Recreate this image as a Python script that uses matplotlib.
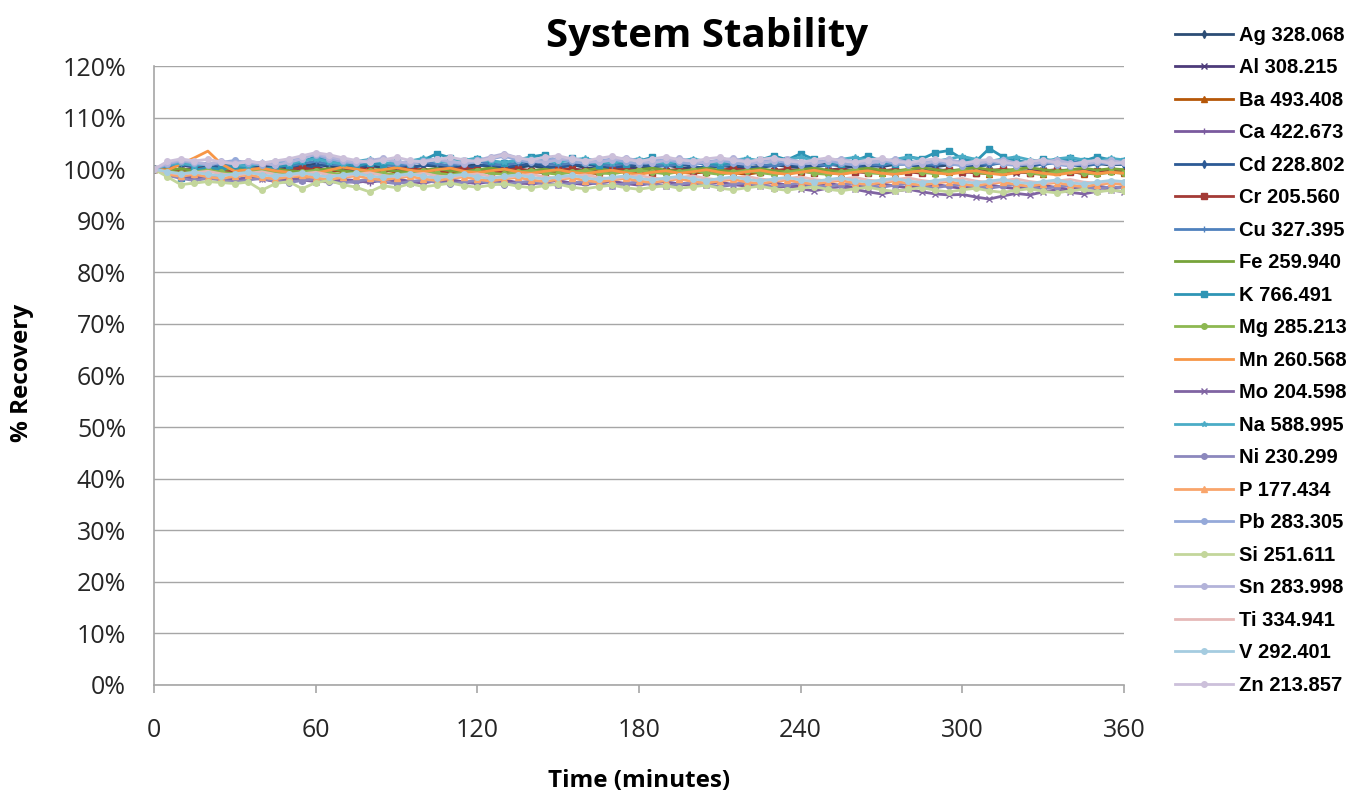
import numpy as np
import matplotlib
matplotlib.use('Agg')
import matplotlib.pyplot as plt
from matplotlib.ticker import PercentFormatter, MultipleLocator

# time in minutes, one reading every 5 minutes
time_min = list(range(0, 361, 5))

labels = ['Ag 328.068', 'Al 308.215', 'Ba 493.408', 'Ca 422.673', 'Cd 228.802',
          'Cr 205.560', 'Cu 327.395', 'Fe 259.940', 'K 766.491', 'Mg 285.213',
          'Mn 260.568', 'Mo 204.598', 'Na 588.995', 'Ni 230.299', 'P 177.434',
          'Pb 283.305', 'Si 251.611', 'Sn 283.998', 'Ti 334.941', 'V 292.401',
          'Zn 213.857']

ag = [100.0, 100.4, 100.8, 100.5, 100.2, 100.6, 100.3, 99.9, 100.1, 100.4,
      100.2, 100.7, 101.0, 100.5, 100.3, 100.1, 100.6, 100.4, 100.0, 100.3,
      100.8, 100.5, 100.2, 100.6, 100.9, 100.4, 100.1, 100.3, 100.7, 100.2,
      100.5, 100.9, 100.3, 100.0, 100.4, 100.6, 100.2, 100.5, 100.8, 100.3,
      100.1, 100.5, 100.7, 100.4, 100.2, 100.6, 100.9, 100.5, 100.3, 100.7,
      101.0, 100.6, 100.4, 100.8, 100.5, 100.9, 101.1, 100.7, 100.5, 100.8,
      101.0, 100.6, 100.9, 101.2, 100.8, 100.6, 101.0, 101.3, 100.9, 100.7,
      101.1, 100.8, 101.0]
al = [100.0, 99.6, 99.9, 100.2, 99.7, 99.5, 99.9, 100.1, 99.8, 99.6,
      99.9, 100.2, 100.4, 99.8, 99.7, 100.0, 99.6, 99.9, 100.3, 99.8,
      99.5, 99.9, 100.2, 99.7, 99.4, 99.8, 100.1, 99.9, 99.6, 99.3,
      99.7, 100.0, 99.8, 99.5, 99.9, 100.2, 99.8, 99.6, 99.4, 99.7,
      100.0, 99.7, 99.5, 99.8, 100.1, 99.6, 99.3, 99.7, 99.9, 99.5,
      99.8, 100.1, 99.7, 99.4, 99.6, 99.9, 99.5, 99.8, 100.0, 99.6,
      99.3, 99.7, 99.9, 99.5, 99.2, 99.6, 99.8, 99.4, 99.7, 99.9,
      99.5, 99.7, 99.4]
ba = [100.0, 100.3, 99.8, 99.5, 99.9, 100.2, 99.7, 99.4, 99.8, 100.1,
      99.6, 99.3, 99.7, 100.0, 99.5, 99.2, 99.6, 99.9, 99.4, 99.7,
      100.0, 99.5, 99.3, 99.7, 99.9, 99.4, 99.2, 99.6, 99.8, 99.3,
      99.5, 99.8, 99.4, 99.1, 99.5, 99.7, 99.3, 99.6, 99.9, 99.4,
      99.2, 99.5, 99.8, 99.3, 99.0, 99.4, 99.7, 99.2, 99.5, 99.8,
      99.4, 99.1, 99.5, 99.7, 99.3, 99.0, 99.4, 99.6, 99.2, 99.5,
      99.8, 99.3, 99.1, 99.5, 99.7, 99.2, 99.0, 99.4, 99.6, 99.1,
      99.3, 99.6, 99.2]
ca = [100.0, 99.0, 98.5, 98.2, 98.6, 98.0, 97.8, 98.3, 98.1, 97.6,
      97.9, 98.3, 97.7, 97.5, 98.0, 97.8, 97.4, 97.9, 98.2, 97.6,
      97.3, 97.8, 98.0, 97.5, 97.2, 97.6, 97.9, 97.4, 97.1, 97.5,
      97.8, 97.3, 97.0, 97.4, 97.7, 97.2, 96.9, 97.3, 97.6, 97.1,
      96.8, 97.2, 97.5, 97.0, 96.7, 97.1, 97.4, 96.9, 96.6, 97.0,
      97.3, 96.8, 96.5, 96.9, 97.2, 96.7, 96.4, 96.8, 97.1, 96.6,
      96.3, 96.7, 97.0, 96.5, 96.2, 96.6, 96.9, 96.4, 96.1, 96.5,
      96.8, 96.3, 96.6]
cd = [100.0, 100.5, 100.9, 100.6, 100.3, 100.7, 101.0, 100.6, 100.4, 100.8,
      100.5, 100.2, 100.6, 101.0, 100.7, 100.4, 100.8, 101.1, 100.6, 100.3,
      100.7, 101.0, 100.5, 100.2, 100.6, 100.9, 100.4, 100.7, 101.1, 100.6,
      100.3, 100.7, 101.0, 100.5, 100.2, 100.6, 100.9, 100.4, 100.7, 101.0,
      100.5, 100.2, 100.6, 100.9, 100.5, 100.3, 100.7, 101.0, 100.6, 100.4,
      100.8, 101.1, 100.7, 100.4, 100.8, 101.2, 100.8, 100.5, 100.9, 101.2,
      100.7, 100.5, 100.9, 101.3, 100.9, 100.6, 101.0, 101.3, 100.8, 100.6,
      101.0, 101.2, 100.9]
cr = [100.0, 100.2, 99.7, 99.9, 100.3, 99.8, 99.5, 99.9, 100.2, 99.7,
      99.9, 100.3, 99.8, 99.6, 100.0, 100.3, 99.8, 99.6, 99.9, 100.2,
      99.7, 99.5, 99.9, 100.2, 99.8, 99.5, 99.8, 100.1, 99.7, 99.4,
      99.8, 100.1, 99.6, 99.4, 99.8, 100.0, 99.6, 99.3, 99.7, 100.0,
      99.6, 99.4, 99.8, 100.1, 99.7, 99.4, 99.7, 100.0, 99.6, 99.3,
      99.7, 100.0, 99.5, 99.3, 99.7, 99.9, 99.5, 99.2, 99.6, 99.9,
      99.5, 99.3, 99.7, 100.0, 99.6, 99.3, 99.6, 99.9, 99.5, 99.2,
      99.6, 99.9, 99.5]
cu = [100.0, 100.6, 101.0, 100.7, 101.2, 100.8, 100.5, 100.9, 101.3, 100.9,
      100.6, 101.1, 101.5, 101.0, 100.7, 101.1, 101.4, 100.9, 100.6, 101.0,
      101.4, 101.0, 100.7, 101.1, 101.5, 101.0, 100.8, 101.2, 101.6, 101.1,
      100.8, 101.2, 101.5, 101.0, 100.7, 101.1, 101.4, 100.9, 100.6, 101.0,
      101.3, 100.9, 100.6, 101.0, 101.4, 100.9, 100.7, 101.1, 101.4, 101.0,
      100.7, 101.1, 101.5, 101.0, 100.8, 101.2, 101.6, 101.1, 100.9, 101.3,
      101.6, 101.2, 100.9, 101.3, 101.7, 101.2, 100.9, 101.3, 101.6, 101.1,
      100.9, 101.3, 101.1]
fe = [100.0, 99.8, 100.1, 99.7, 99.5, 99.9, 100.2, 99.8, 99.6, 100.0,
      99.7, 99.5, 99.8, 100.1, 99.7, 99.4, 99.8, 100.0, 99.6, 99.4,
      99.8, 100.1, 99.7, 99.5, 99.9, 100.2, 99.8, 99.5, 99.7, 100.0,
      99.6, 99.4, 99.8, 100.1, 99.7, 99.5, 99.9, 100.2, 99.8, 99.6,
      99.9, 100.2, 99.8, 99.5, 99.8, 100.1, 99.7, 99.5, 99.9, 100.2,
      99.8, 99.5, 99.9, 100.2, 99.8, 99.6, 100.0, 100.3, 99.9, 99.6,
      100.0, 100.3, 99.9, 99.7, 100.0, 100.3, 99.9, 99.6, 99.9, 100.2,
      99.8, 100.1, 99.9]
k = [100.0, 99.5, 98.2, 99.8, 100.3, 100.0, 100.6, 100.2, 99.9, 100.4,
     100.8, 101.5, 102.4, 101.6, 101.0, 100.6, 101.2, 100.8, 101.5, 101.0,
     101.8, 103.0, 102.2, 101.5, 102.0, 101.6, 101.2, 101.8, 102.4, 102.8,
     101.5, 102.2, 101.3, 100.9, 101.5, 101.0, 101.6, 102.3, 101.4, 101.0,
     101.6, 101.2, 100.8, 101.4, 101.0, 101.8, 102.6, 101.8, 103.0, 101.9,
     101.3, 101.0, 101.6, 102.6, 101.5, 101.0, 102.4, 102.0, 103.2, 103.6,
     102.0, 101.5, 104.0, 102.4, 101.6, 101.2, 102.0, 101.5, 102.2, 101.6,
     102.4, 101.8, 101.6]
mg = [100.0, 99.6, 99.2, 99.5, 99.8, 99.4, 99.1, 99.5, 99.7, 99.3,
      99.0, 99.4, 99.7, 99.3, 99.0, 99.3, 99.6, 99.2, 98.9, 99.3,
      99.6, 99.2, 98.9, 99.3, 99.6, 99.2, 99.0, 99.4, 99.7, 99.3,
      99.0, 99.4, 99.7, 99.3, 99.1, 99.5, 99.8, 99.4, 99.1, 99.5,
      99.8, 99.3, 99.0, 99.4, 99.7, 99.3, 99.0, 99.4, 99.7, 99.2,
      99.0, 99.4, 99.8, 99.3, 99.1, 99.5, 99.8, 99.4, 99.1, 99.5,
      99.8, 99.4, 99.1, 99.5, 99.8, 99.3, 99.0, 99.4, 99.7, 99.3,
      99.0, 99.4, 99.2]
mn = [100.0, 99.8, 101.0, 102.2, 103.5, 101.0, 99.6, 99.9, 100.2, 99.7,
      99.4, 97.6, 99.2, 99.8, 100.4, 100.0, 99.6, 99.9, 100.3, 99.8,
      99.5, 99.9, 100.2, 99.6, 99.3, 99.7, 100.0, 99.5, 99.2, 99.6,
      99.9, 99.4, 99.1, 99.5, 99.8, 99.3, 99.0, 99.4, 99.7, 99.2,
      99.5, 99.9, 99.4, 99.1, 99.5, 99.8, 99.3, 99.0, 99.4, 99.8,
      99.3, 99.0, 99.4, 99.7, 99.2, 99.0, 99.4, 99.7, 99.3, 99.0,
      99.4, 99.7, 99.2, 98.9, 99.3, 99.6, 99.2, 98.9, 99.3, 99.6,
      99.1, 99.4, 99.2]
mo = [100.0, 99.2, 98.8, 98.4, 98.7, 98.2, 98.0, 98.4, 98.1, 97.8,
      98.2, 97.9, 97.6, 98.0, 97.7, 97.4, 97.8, 98.1, 97.6, 97.3,
      97.7, 98.0, 97.5, 97.2, 97.6, 97.9, 97.4, 97.1, 97.5, 97.2,
      96.9, 97.3, 97.6, 97.1, 96.8, 97.2, 97.5, 97.0, 96.7, 97.1,
      97.4, 96.9, 96.6, 97.0, 97.3, 96.8, 96.4, 96.7, 96.2, 95.8,
      96.3, 96.6, 96.1, 95.6, 95.2, 95.7, 96.1, 95.6, 95.2, 95.0,
      95.1, 94.6, 94.2, 94.8, 95.3, 95.0, 95.6, 96.0, 95.5, 95.2,
      95.7, 96.0, 95.6]
na = [100.0, 100.8, 101.2, 100.7, 101.0, 101.4, 100.9, 100.6, 101.1, 101.5,
      101.0, 101.6, 102.0, 101.4, 101.0, 101.5, 101.9, 101.3, 101.0, 101.6,
      102.1, 101.6, 101.2, 101.7, 102.2, 101.6, 101.3, 101.8, 102.2, 101.7,
      101.3, 101.8, 102.1, 101.5, 101.2, 101.7, 102.0, 101.4, 101.1, 101.6,
      102.0, 101.5, 101.2, 101.7, 102.1, 101.6, 101.3, 101.8, 102.3, 101.7,
      101.4, 101.9, 102.3, 101.7, 101.4, 101.9, 102.4, 101.8, 101.5, 102.0,
      102.5, 101.9, 101.5, 102.0, 102.4, 101.8, 101.5, 102.0, 102.3, 101.8,
      101.5, 102.1, 101.8]
ni = [100.0, 98.8, 98.2, 97.8, 98.2, 97.9, 97.5, 97.9, 98.2, 97.7,
      97.4, 97.8, 98.1, 97.6, 97.3, 97.7, 98.0, 97.5, 97.2, 97.6,
      97.9, 97.4, 97.1, 97.5, 97.8, 97.3, 97.0, 97.4, 97.7, 97.2,
      96.9, 97.3, 97.6, 97.1, 96.8, 97.2, 97.5, 97.0, 96.7, 97.1,
      97.4, 96.9, 96.7, 97.1, 97.4, 96.9, 96.6, 97.0, 97.3, 96.8,
      96.6, 97.0, 97.3, 96.8, 96.5, 96.9, 97.2, 96.7, 96.4, 96.8,
      97.1, 96.6, 96.3, 96.7, 97.0, 96.5, 96.2, 96.6, 96.9, 96.4,
      96.2, 96.6, 96.4]
p = [100.0, 99.0, 98.6, 99.0, 98.5, 98.2, 98.6, 98.9, 98.4, 98.1,
     98.5, 98.8, 98.3, 98.0, 98.4, 98.7, 98.2, 97.9, 98.3, 98.6,
     98.1, 97.8, 98.2, 98.5, 98.0, 97.7, 98.1, 98.4, 97.9, 97.6,
     98.0, 98.3, 97.8, 97.5, 97.9, 98.2, 97.7, 97.4, 97.8, 98.1,
     97.6, 97.3, 97.7, 98.0, 97.5, 97.2, 97.6, 97.9, 97.4, 97.1,
     97.5, 97.8, 97.3, 97.0, 97.4, 97.7, 97.2, 96.9, 97.3, 97.6,
     97.1, 96.8, 97.2, 97.5, 97.0, 96.7, 97.1, 97.4, 96.9, 96.6,
     97.0, 97.3, 97.0]
pb = [100.0, 101.0, 101.6, 101.2, 100.8, 101.3, 101.7, 101.2, 100.9, 101.4,
      101.8, 102.3, 102.8, 102.0, 101.5, 101.1, 101.6, 102.0, 101.4, 101.0,
      101.5, 101.9, 101.3, 101.0, 101.5, 102.0, 102.5, 101.8, 101.3, 101.7,
      102.1, 101.5, 101.1, 101.6, 102.0, 101.4, 101.0, 101.5, 101.9, 101.3,
      101.0, 101.4, 101.8, 101.2, 100.9, 101.4, 101.8, 101.2, 100.9, 101.3,
      101.7, 101.1, 100.8, 101.3, 101.7, 101.1, 100.8, 101.2, 101.6, 101.0,
      100.7, 101.2, 101.6, 101.0, 100.7, 101.1, 101.5, 100.9, 100.6, 101.1,
      101.5, 100.9, 101.2]
si = [100.0, 98.5, 97.0, 97.3, 97.6, 97.4, 97.2, 97.5, 95.9, 97.2,
      97.6, 96.2, 97.4, 97.8, 97.0, 96.5, 95.6, 96.8, 96.4, 97.2,
      96.6, 96.9, 97.3, 96.8, 96.5, 96.9, 97.2, 96.7, 96.4, 96.8,
      97.1, 96.5, 96.2, 96.6, 96.9, 96.4, 96.1, 96.5, 96.8, 96.3,
      96.6, 96.9, 96.3, 96.0, 96.4, 96.7, 96.2, 95.9, 96.3, 96.6,
      96.1, 95.8, 96.2, 96.5, 96.0, 95.7, 96.1, 96.4, 95.9, 95.6,
      96.0, 96.3, 95.8, 95.5, 95.9, 96.2, 95.7, 95.4, 95.8, 96.1,
      95.6, 95.9, 95.7]
sn = [100.0, 101.2, 101.8, 101.4, 101.0, 101.5, 101.2, 101.6, 101.1, 100.8,
      101.3, 102.0, 103.0, 102.4, 101.8, 101.3, 101.7, 102.1, 101.5, 101.2,
      101.6, 102.0, 101.5, 101.2, 101.7, 102.4, 103.0, 102.2, 101.7, 101.3,
      101.8, 102.2, 101.6, 101.3, 101.8, 102.2, 101.6, 101.2, 101.7, 102.1,
      101.5, 101.2, 101.7, 102.1, 101.5, 101.2, 101.6, 102.0, 101.4, 101.1,
      101.6, 102.0, 101.4, 101.1, 101.6, 101.9, 101.3, 101.0, 101.5, 101.9,
      101.3, 101.0, 101.5, 101.8, 101.2, 100.9, 101.4, 101.8, 101.2, 100.9,
      101.4, 101.7, 101.3]
ti = [100.0, 99.4, 99.0, 99.3, 99.6, 99.1, 98.8, 99.2, 99.5, 99.0,
      98.7, 99.1, 99.4, 98.9, 98.6, 99.0, 99.3, 98.8, 98.5, 98.9,
      99.2, 98.7, 98.4, 98.8, 99.1, 98.6, 98.3, 98.7, 99.0, 98.5,
      98.2, 98.6, 98.9, 98.4, 98.1, 98.5, 98.8, 98.3, 98.0, 98.4,
      98.7, 98.2, 97.9, 98.3, 98.6, 98.1, 97.8, 98.2, 98.5, 98.0,
      97.7, 98.1, 98.4, 97.9, 97.6, 98.0, 98.3, 97.8, 97.5, 97.9,
      98.2, 97.7, 97.4, 97.8, 98.1, 97.6, 97.3, 97.7, 98.0, 97.5,
      97.3, 97.7, 97.5]
v = [100.0, 99.5, 99.1, 99.4, 99.0, 98.7, 99.1, 99.4, 98.9, 98.6,
     99.0, 99.3, 98.8, 98.5, 98.9, 99.2, 98.7, 98.4, 98.8, 99.1,
     98.6, 98.3, 98.7, 99.0, 98.5, 98.2, 98.6, 98.9, 98.4, 98.1,
     98.5, 98.8, 98.3, 98.0, 98.4, 98.7, 98.2, 97.9, 98.3, 98.6,
     98.1, 97.8, 98.2, 98.5, 98.0, 97.7, 98.1, 98.4, 97.9, 97.6,
     98.0, 98.3, 97.8, 97.5, 97.9, 98.2, 97.7, 97.4, 97.8, 98.1,
     97.6, 97.3, 97.7, 98.0, 97.5, 97.2, 97.6, 97.9, 97.4, 97.1,
     97.5, 97.8, 97.6]
zn = [100.0, 101.5, 102.0, 101.6, 101.9, 101.4, 101.0, 101.5, 101.2, 101.6,
      102.0, 102.6, 103.2, 102.8, 102.2, 101.7, 101.3, 101.8, 102.3, 101.7,
      101.4, 101.9, 102.3, 101.8, 101.5, 102.1, 102.8, 102.2, 101.8, 102.3,
      102.6, 102.0, 101.6, 102.1, 102.5, 101.9, 101.5, 102.0, 102.4, 101.8,
      101.5, 102.0, 102.3, 101.7, 101.4, 101.9, 102.2, 101.6, 101.3, 101.8,
      102.2, 101.6, 101.3, 101.8, 102.1, 101.5, 101.2, 101.7, 102.0, 101.4,
      101.1, 101.6, 101.9, 101.3, 101.0, 101.5, 101.8, 101.2, 100.9, 101.4,
      101.7, 101.1, 101.3]

series = [ag, al, ba, ca, cd, cr, cu, fe, k, mg, mn, mo, na, ni, p, pb, si, sn, ti, v, zn]

colors = ['#2C4D75', '#4D3B7A', '#B65708', '#7A5A9E', '#2C5A95', '#A33A36', '#4F81BD',
          '#77A33A', '#2E95B5', '#8DB851', '#F79646', '#8064A2', '#4BACC6', '#8C88BD',
          '#F9A56B', '#95A9D9', '#C3D69B', '#B3B3D9', '#E6B9B8', '#A5CCE0', '#CCC0DA']
markers = ['d', 'x', '^', '+', 'd', 's', '+', '', 's', 'o', '', 'x', '*', 'o',
           '^', 'o', 'o', 'o', '', 'o', 'o']

fig = plt.figure(figsize=(13.54, 7.95), dpi=100)
ax = fig.add_axes([154 / 1354, 1 - 685 / 795, 970 / 1354, 619 / 795])

for vals, lab, col, mk in zip(series, labels, colors, markers):
    ax.plot(time_min, vals, color=col, lw=2, marker=mk, markersize=4,
            markeredgewidth=1, label=lab)

ax.set_xlim(0, 360)
ax.set_ylim(0, 120)
ax.xaxis.set_major_locator(MultipleLocator(60))
ax.yaxis.set_major_locator(MultipleLocator(10))
ax.yaxis.set_major_formatter(PercentFormatter(decimals=0))
ax.grid(axis='y', color='#A6A6A6', lw=1)
ax.set_axisbelow(True)
for s in ['top', 'right']:
    ax.spines[s].set_visible(False)
for s in ['left', 'bottom']:
    ax.spines[s].set_color('#A6A6A6')
    ax.spines[s].set_linewidth(1.2)
ax.tick_params(axis='x', direction='out', length=6, width=1.2, color='#A6A6A6',
               pad=18, labelsize=18, labelcolor='#262626')
ax.tick_params(axis='y', length=0, pad=20, labelsize=18, labelcolor='#262626')
for t in ax.get_xticklabels() + ax.get_yticklabels():
    t.set_fontfamily('Open Sans')

fig.text(707 / 1354, 1 - 36 / 795, 'System Stability', ha='center', va='center',
         fontsize=29, fontweight='bold', family='Open Sans')
fig.text(639 / 1354, 1 - 781 / 795, 'Time (minutes)', ha='center', va='center',
         fontsize=17.5, fontweight='bold', family='Open Sans')
fig.text(22 / 1354, 1 - 373 / 795, '% Recovery', ha='center', va='center',
         rotation=90, fontsize=17.5, fontweight='bold', family='Open Sans')

fig.legend(loc='upper left', bbox_to_anchor=(1175 / 1354, 1 - 26 / 795),
           frameon=False, handlelength=2.9, handletextpad=0.26, labelspacing=0.67,
           borderaxespad=0, borderpad=0,
           prop={'family': 'Liberation Sans', 'weight': 'bold', 'size': 14.5})

fig.savefig('out.png', dpi=100)
